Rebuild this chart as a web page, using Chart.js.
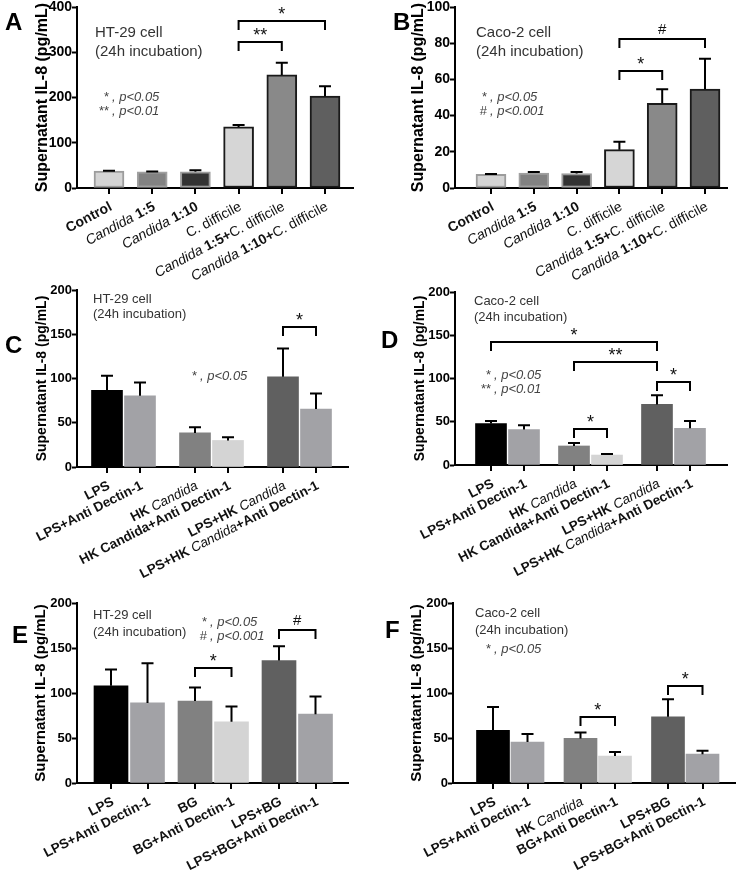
<!DOCTYPE html>
<html>
<head>
<meta charset="utf-8">
<script src="https://cdn.jsdelivr.net/npm/chart.js@4.4.1/dist/chart.umd.min.js"></script>
<style>
  body { margin: 0; background: #fff; }
  #page { position: relative; width: 737px; height: 879px; overflow: hidden; background: #fff; }
  canvas { position: absolute; }
</style>
</head>
<body>
<div id="page"></div>
<script>
// ---- data ----
const labelsAB = ['Control', 'Candida 1:5', 'Candida 1:10', 'C. difficile', 'Candida 1:5+C. difficile', 'Candida 1:10+C. difficile'];
const labelsCD = ['LPS', 'LPS+Anti Dectin-1', 'HK Candida', 'HK Candida+Anti Dectin-1', 'LPS+HK Candida', 'LPS+HK Candida+Anti Dectin-1'];
const labelsE = ['LPS', 'LPS+Anti Dectin-1', 'BG', 'BG+Anti Dectin-1', 'LPS+BG', 'LPS+BG+Anti Dectin-1'];
const labelsF = ['LPS', 'LPS+Anti Dectin-1', 'HK Candida', 'BG+Anti Dectin-1', 'LPS+BG', 'LPS+BG+Anti Dectin-1'];

const valsA = [37.5, 36, 36, 135, 250, 203];
const errA = [0.5, 0.5, 3.5, 4, 27, 22];
const valsB = [7.6, 8.3, 8.0, 21.2, 46.8, 54.6];
const errB = [0.2, 0.5, 0.8, 4.3, 7.7, 16.8];
const valsC = [86.5, 80.5, 38.5, 30, 102, 65.5];
const errC = [16.5, 15, 6.5, 3.5, 32, 17.5];
const valsD = [48, 41, 22, 11.5, 70, 42.5];
const errD = [2.8, 5, 3.5, 1.2, 10.5, 8.5];
const valsE = [108, 89, 91, 68, 136, 76.5];
const errE = [18, 44, 15, 17, 16, 19.5];
const valsF = [58.5, 45.5, 49.5, 30, 73.5, 32];
const errF = [26, 9, 6.5, 4.5, 19.5, 3.7];

const ticksA = [0, 100, 200, 300, 400];
const ticksB = [0, 20, 40, 60, 80, 100];
const ticks200 = [0, 50, 100, 150, 200];

// significance brackets: [from bar, to bar, level, mark]
const sigA = [[3, 5, 369, '*'], [3, 4, 322, '**']];
const sigB = [[3, 5, 82.3, '#'], [3, 4, 64.8, '*']];
const sigC = [[4, 5, 158, '*']];
const sigD = [[0, 4, 142, '*'], [2, 4, 118.5, '**'], [4, 5, 95.8, '*'], [2, 3, 41.3, '*']];
const sigE = [[2, 3, 127.5, '*'], [4, 5, 170, '#']];
const sigF = [[2, 3, 73.2, '*'], [4, 5, 107.8, '*']];

const pA = [['*', ', p<0.05'], ['**', ', p<0.01']];
const pB = [['*', ', p<0.05'], ['#', ', p<0.001']];
const p05 = [['*', ', p<0.05']];

const FAM = '"Liberation Sans", Arial, Helvetica, sans-serif';
Chart.defaults.font.family = FAM;

const fillAB = ['#d4d4d4', '#828282', '#333333', '#d6d6d6', '#898989', '#5f5f5f'];
const edgeAB = ['#9c9c9c', '#a0a0a0', '#9c9c9c', '#1a1a1a', '#1a1a1a', '#1a1a1a'];
const fillCF = ['#000000', '#a2a2a6', '#818181', '#d4d4d4', '#606060', '#a2a2a6'];

// split a label into styled runs: Candida italic, C. difficile upright, rest bold
function runs(label) {
  if (label === 'HK Candida+Anti Dectin-1') return [[label, 'bold']];
  const out = [];
  label.split(/(Candida|C\. difficile)/).forEach(s => {
    if (!s) return;
    if (s === 'Candida') out.push([s, 'italic']);
    else if (s === 'C. difficile') out.push([s, 'normal']);
    else out.push([s, 'bold']);
  });
  return out;
}
function fontOf(style, size) {
  if (style === 'italic') return 'italic 400 ' + size + 'px ' + FAM;
  if (style === 'bold') return '700 ' + size + 'px ' + FAM;
  return '400 ' + size + 'px ' + FAM;
}

function decor(p, pos) {
  const [cx, cy] = p.box;
  return {
    id: 'decor' + p.key,
    afterDatasetsDraw(chart) {
      const ctx = chart.ctx, xs = chart.scales.x, ys = chart.scales.y;
      ctx.save();
      ctx.strokeStyle = '#000';
      ctx.lineWidth = 2;
      p.vals.forEach((v, i) => {
        const x = xs.getPixelForValue(pos[i]);
        const y0 = ys.getPixelForValue(v), y1 = ys.getPixelForValue(v + p.err[i]);
        ctx.beginPath();
        ctx.moveTo(x, y0); ctx.lineTo(x, y1);
        ctx.moveTo(x - 6, y1); ctx.lineTo(x + 6, y1);
        ctx.stroke();
      });
      ctx.restore();
    },
    afterDraw(chart) {
      const ctx = chart.ctx, xs = chart.scales.x, ys = chart.scales.y;
      const axisY = chart.chartArea.bottom;
      ctx.save();
      ctx.strokeStyle = '#000';
      ctx.lineWidth = 2;
      // x tick marks
      pos.forEach(v => {
        const x = Math.round(xs.getPixelForValue(v));
        ctx.beginPath(); ctx.moveTo(x, axisY); ctx.lineTo(x, axisY + 6); ctx.stroke();
      });
      // rotated category labels
      ctx.fillStyle = '#111';
      ctx.textBaseline = 'middle';
      ctx.textAlign = 'left';
      p.labels.forEach((lab, i) => {
        const r = runs(lab);
        let w = 0;
        r.forEach(s => { ctx.font = fontOf(s[1], p.labSize); w += ctx.measureText(s[0]).width; });
        ctx.save();
        ctx.translate(xs.getPixelForValue(pos[i]) + 2, axisY + p.labDy);
        ctx.rotate(-p.angle * Math.PI / 180);
        let x = -w;
        r.forEach(s => { ctx.font = fontOf(s[1], p.labSize); ctx.fillText(s[0], x, 0); x += ctx.measureText(s[0]).width; });
        ctx.restore();
      });
      // significance brackets
      p.sig.forEach(([a, b, lvl, mark]) => {
        const x1 = xs.getPixelForValue(pos[a]), x2 = xs.getPixelForValue(pos[b]);
        const y = Math.round(ys.getPixelForValue(lvl));
        ctx.beginPath();
        ctx.moveTo(x1, y + 9); ctx.lineTo(x1, y); ctx.lineTo(x2, y); ctx.lineTo(x2, y + 9);
        ctx.stroke();
        ctx.fillStyle = '#111';
        ctx.textAlign = 'center';
        ctx.textBaseline = 'alphabetic';
        ctx.font = '400 ' + (mark === '#' ? 15 : 18) + 'px ' + FAM;
        ctx.fillText(mark, (x1 + x2) / 2, y - (mark === '#' ? 5 : 1));
      });
      // cell line / incubation note
      ctx.fillStyle = '#333';
      ctx.textAlign = 'left';
      ctx.textBaseline = 'middle';
      ctx.font = '400 ' + p.noteSize + 'px ' + FAM;
      p.cell.forEach((t, k) => ctx.fillText(t, p.cellX - cx, p.cellY[k] - cy));
      // p-value key
      ctx.fillStyle = '#444';
      p.pkey.forEach(([m, t], k) => {
        const y = p.pY[k] - cy;
        ctx.font = '400 13px ' + FAM;
        ctx.textAlign = 'right';
        ctx.fillText(m, p.pX - cx - 3, y);
        ctx.font = 'italic 400 13px ' + FAM;
        ctx.textAlign = 'left';
        ctx.fillText(t, p.pX - cx, y);
      });
      // panel letter
      ctx.fillStyle = '#000';
      ctx.textAlign = 'left';
      ctx.textBaseline = 'alphabetic';
      ctx.font = '700 24px ' + FAM;
      ctx.fillText(p.key, p.letter[0] - cx, p.letter[1] - cy);
      ctx.restore();
    }
  };
}

function makePanel(p) {
  const [cx, cy, cw, ch] = p.box;
  const [L, T, R, B] = p.plot;
  const cv = document.createElement('canvas');
  cv.width = cw; cv.height = ch;
  cv.style.left = cx + 'px'; cv.style.top = cy + 'px';
  document.getElementById('page').appendChild(cv);

  const unit = p.pair;
  const g = p.pitch ? p.pitch / p.pair : 1;
  const pos = p.pitch ? [0, 1, g, g + 1, 2 * g, 2 * g + 1] : [0, 1, 2, 3, 4, 5];
  const xmin = (L - p.first) / unit;
  const xmax = xmin + (R - L) / unit;
  const yTicks = p.ticks;

  new Chart(cv, {
    type: 'bar',
    data: {
      datasets: [{
        data: p.vals.map((v, i) => ({ x: pos[i], y: v })),
        backgroundColor: p.fill,
        borderColor: p.edge || p.fill,
        borderWidth: p.edge ? 2 : 0,
        borderSkipped: false,
        barThickness: p.barW
      }]
    },
    options: {
      responsive: false,
      animation: false,
      devicePixelRatio: 1,
      layout: { padding: { left: 0, top: T - cy, right: cx + cw - R, bottom: 0 } },
      plugins: { legend: { display: false }, tooltip: { enabled: false } },
      scales: {
        x: {
          type: 'linear', min: xmin, max: xmax, offset: false,
          grid: { display: false },
          ticks: { display: false },
          border: { display: true, color: '#000', width: 2 },
          afterFit: s => { s.height = cy + ch - B; s.paddingLeft = 0; s.paddingRight = 0; }
        },
        y: {
          min: 0, max: yTicks[yTicks.length - 1],
          afterBuildTicks: s => { s.ticks = yTicks.map(v => ({ value: v })); },
          grid: { display: true, drawOnChartArea: false, drawTicks: true, tickLength: 5, tickWidth: 2, tickColor: '#000', color: '#000' },
          border: { display: true, color: '#000', width: 2 },
          ticks: { color: '#000', font: { size: p.tickSize, weight: 'bold' }, padding: 0 },
          title: {
            display: true, text: 'Supernatant IL-8 (pg/mL)', color: '#000',
            font: { size: p.titleSize, weight: 'bold', lineHeight: 1.2 },
            padding: { top: p.titleX - cx - p.titleSize * 0.6, bottom: 0 }
          },
          afterFit: s => { s.width = L - cx; s.paddingTop = 0; s.paddingBottom = 0; }
        }
      }
    },
    plugins: [decor(p, pos)]
  });
}

const panels = [
  { key: 'A', box: [0, 0, 368, 295], plot: [77, 7, 353, 188], first: 109, pair: 43.2, pitch: null, barW: 30,
    vals: valsA, err: errA, labels: labelsAB, ticks: ticksA, sig: sigA, fill: fillAB, edge: edgeAB,
    titleSize: 16, titleX: 43, tickSize: 14, angle: 28, labSize: 14, labDy: 18,
    cell: ['HT-29 cell', '(24h incubation)'], cellX: 95, cellY: [33, 52], noteSize: 15,
    pkey: pA, pX: 112, pY: [97, 111], letter: [5, 30] },
  { key: 'B', box: [368, 0, 369, 295], plot: [455, 7, 727, 188], first: 491, pair: 42.8, pitch: null, barW: 30,
    vals: valsB, err: errB, labels: labelsAB, ticks: ticksB, sig: sigB, fill: fillAB, edge: edgeAB,
    titleSize: 16, titleX: 419, tickSize: 14, angle: 28, labSize: 14, labDy: 18,
    cell: ['Caco-2 cell', '(24h incubation)'], cellX: 476, cellY: [33, 52], noteSize: 15,
    pkey: pB, pX: 490, pY: [97, 111], letter: [393, 30] },
  { key: 'C', box: [0, 278, 368, 312], plot: [77, 290, 348, 467], first: 107, pair: 33, pitch: 88, barW: 31,
    vals: valsC, err: errC, labels: labelsCD, ticks: ticks200, sig: sigC, fill: fillCF, edge: null,
    titleSize: 14, titleX: 42, tickSize: 13, angle: 27, labSize: 13.5, labDy: 18,
    cell: ['HT-29 cell', '(24h incubation)'], cellX: 93, cellY: [299, 314], noteSize: 13,
    pkey: p05, pX: 200, pY: [376], letter: [5, 353] },
  { key: 'D', box: [368, 278, 369, 312], plot: [455, 292, 727, 465], first: 491, pair: 33, pitch: 83, barW: 31,
    vals: valsD, err: errD, labels: labelsCD, ticks: ticks200, sig: sigD, fill: fillCF, edge: null,
    titleSize: 14, titleX: 420, tickSize: 13, angle: 27, labSize: 13.5, labDy: 18,
    cell: ['Caco-2 cell', '(24h incubation)'], cellX: 474, cellY: [301, 317], noteSize: 13,
    pkey: pA, pX: 494, pY: [375, 389], letter: [381, 348] },
  { key: 'E', box: [0, 585, 368, 294], plot: [77, 603, 348, 783], first: 111, pair: 36.5, pitch: 84, barW: 34,
    vals: valsE, err: errE, labels: labelsE, ticks: ticks200, sig: sigE, fill: fillCF, edge: null,
    titleSize: 15, titleX: 41, tickSize: 13, angle: 27, labSize: 13.5, labDy: 18,
    cell: ['HT-29 cell', '(24h incubation)'], cellX: 93, cellY: [615, 632], noteSize: 13,
    pkey: pB, pX: 210, pY: [622, 636], letter: [12, 643] },
  { key: 'F', box: [368, 585, 369, 294], plot: [453, 603, 735, 783], first: 493, pair: 34.5, pitch: 87.5, barW: 33,
    vals: valsF, err: errF, labels: labelsF, ticks: ticks200, sig: sigF, fill: fillCF, edge: null,
    titleSize: 15, titleX: 417, tickSize: 13, angle: 27, labSize: 13.5, labDy: 18,
    cell: ['Caco-2 cell', '(24h incubation)'], cellX: 475, cellY: [613, 630], noteSize: 13,
    pkey: p05, pX: 494, pY: [649], letter: [385, 638] }
];

panels.forEach(makePanel);
</script>
</body>
</html>
